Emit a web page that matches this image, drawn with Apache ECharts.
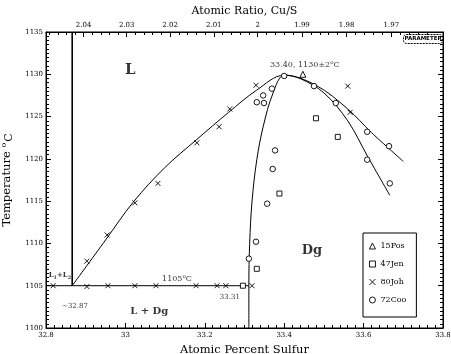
<!DOCTYPE html>
<html>
<head>
<meta charset="utf-8">
<script src="https://cdn.jsdelivr.net/npm/echarts@6/dist/echarts.min.js"></script>
<style>
  html, body { margin: 0; padding: 0; background: #fff; }
  #chart { width: 451px; height: 354px; }
</style>
</head>
<body>
<div id="chart"></div>
<script>
// Cu-S phase diagram near Cu2S, [at.% S, temperature C]
var liquidus = [[32.866, 1105], [32.95, 1110.4], [33.02, 1114.9], [33.10, 1119.0], [33.18, 1122.3],
  [33.26, 1125.5], [33.33, 1128.1], [33.40, 1129.9], [33.48, 1128.7], [33.56, 1125.9],
  [33.62, 1123.1], [33.70, 1119.7]]
var solidus = [[33.311, 1100], [33.311, 1105], [33.313, 1110], [33.319, 1115], [33.331, 1119.9],
  [33.347, 1123.8], [33.372, 1127.8], [33.40, 1129.9], [33.44, 1129.5], [33.50, 1127.8],
  [33.56, 1124.5], [33.61, 1120.3], [33.666, 1115.7]]
var miscibility = [[32.866, 1105], [32.866, 1135]]
var monotectic = [[32.8, 1105], [33.311, 1105]]

var pos15 = [[33.447, 1130.0]]
var jen47 = [[33.388, 1115.9], [33.331, 1107.0], [33.296, 1105.0], [33.48, 1124.8], [33.535, 1122.6]]
var joh80 = [[32.818, 1105], [32.903, 1104.9], [32.956, 1105], [33.024, 1105], [33.077, 1105],
  [33.178, 1105], [33.231, 1105], [33.253, 1105], [33.319, 1105],
  [32.903, 1107.9], [32.954, 1111.0], [33.024, 1114.8], [33.082, 1117.1], [33.18, 1121.9],
  [33.236, 1123.8], [33.263, 1125.9], [33.329, 1128.7], [33.56, 1128.6], [33.566, 1125.5]]
var coo72 = [[33.40, 1129.8], [33.347, 1127.5], [33.331, 1126.7], [33.349, 1126.6], [33.369, 1128.3],
  [33.377, 1121.0], [33.371, 1118.8], [33.357, 1114.7], [33.329, 1110.2], [33.311, 1108.2],
  [33.475, 1128.6], [33.530, 1126.6], [33.609, 1123.2], [33.664, 1121.5], [33.609, 1119.9],
  [33.666, 1117.1]]

// top axis: Cu/S atomic ratio
var ratioTicks = [2.04, 2.03, 2.02, 2.01, 2.00, 1.99, 1.98, 1.97]

var serif = 'DejaVu Serif'
function toS (r) { return 100 / (1 + r) }

var ratioMajorS = ratioTicks.map(toS)
var ratioMinorS = []
for (var k = 2048; k >= 1960; k -= 2) {
  if (k % 10 !== 0) ratioMinorS.push(toS(k / 1000))
}

var chart = echarts.init(document.getElementById('chart'))

function lineSeries (data, smooth, width) {
  return {
    type: 'line',
    data: data,
    showSymbol: false,
    smooth: smooth,
    silent: true,
    lineStyle: { color: '#000', width: width || 1 },
    z: 3
  }
}

function markSeries (name, data, symbol, size) {
  return {
    name: name,
    type: 'scatter',
    data: data,
    symbol: symbol,
    symbolSize: size,
    silent: true,
    itemStyle: { color: symbol.indexOf('path') === 0 ? 'none' : '#fff', borderColor: '#000', borderWidth: 0.9, opacity: 1 },
    z: 4
  }
}

function note (at, text, size, bold) {
  return {
    type: 'scatter',
    data: [at],
    symbolSize: 0,
    silent: true,
    z: 5,
    label: {
      show: true,
      position: 'inside',
      formatter: text,
      color: '#000',
      fontFamily: serif,
      fontSize: size,
      fontWeight: bold ? 'bold' : 'normal',
      rich: {
        sup: { fontSize: size * 0.7, fontFamily: serif, verticalAlign: 'top', padding: [0, 0, 5, 0] },
        sub: { fontSize: size * 0.7, fontFamily: serif, fontWeight: bold ? 'bold' : 'normal', padding: [4, 0, 0, 0] }
      }
    }
  }
}

var option = {
  animation: false,
  backgroundColor: '#fff',
  grid: {
    left: 46, right: 8, top: 32, bottom: 26,
    containLabel: false,
    outerBoundsMode: 'none',
    show: true, borderColor: '#000', borderWidth: 1
  },
  legend: {
    data: ['15Pos', '47Jen', '80Joh', '72Coo'],
    orient: 'vertical',
    left: 363,
    top: 233,
    borderColor: '#000',
    borderWidth: 1,
    backgroundColor: '#fff',
    padding: [9, 10, 13, 6],
    itemGap: 10,
    itemWidth: 6,
    itemHeight: 6,
    itemStyle: { color: '#fff', borderColor: '#000', borderWidth: 0.9 },
    selectedMode: false,
    textStyle: { fontFamily: serif, fontSize: 8, color: '#000' }
  },
  xAxis: [{
    type: 'value',
    min: 32.8,
    max: 33.8,
    interval: 0.2,
    position: 'bottom',
    name: 'Atomic Percent Sulfur',
    nameLocation: 'middle',
    nameGap: 14,
    nameTextStyle: { fontFamily: serif, fontSize: 11.5, color: '#000' },
    axisLine: { lineStyle: { color: '#000' } },
    axisTick: { inside: true, length: 5, lineStyle: { color: '#000' } },
    minorTick: { show: true, splitNumber: 10, length: 3, lineStyle: { color: '#000' } },
    axisLabel: { margin: 4, fontFamily: serif, fontSize: 7, color: '#000' },
    splitLine: { show: false }
  }, {
    type: 'value',
    min: 32.8,
    max: 33.8,
    position: 'top',
    name: 'Atomic Ratio, Cu/S',
    nameLocation: 'middle',
    nameGap: 14,
    nameTextStyle: { fontFamily: serif, fontSize: 11, color: '#000' },
    axisLine: { lineStyle: { color: '#000' } },
    axisTick: { inside: true, length: 5, customValues: ratioMajorS, lineStyle: { color: '#000' } },
    axisLabel: {
      margin: 3,
      customValues: ratioMajorS,
      fontFamily: serif,
      fontSize: 7,
      color: '#000',
      formatter: function (v) { return String(Math.round((100 - v) / v * 100) / 100) }
    },
    splitLine: { show: false }
  }, {
    type: 'value',
    min: 32.8,
    max: 33.8,
    position: 'top',
    axisLine: { show: false },
    axisTick: { inside: true, length: 3, customValues: ratioMinorS, lineStyle: { color: '#000' } },
    axisLabel: { show: false },
    splitLine: { show: false }
  }],
  yAxis: [{
    type: 'value',
    min: 1100,
    max: 1135,
    interval: 5,
    position: 'left',
    name: 'Temperature {o|o}{c|C}',
    nameLocation: 'middle',
    nameGap: 26,
    nameTextStyle: {
      fontFamily: serif,
      fontSize: 11.5,
      color: '#000',
      rich: {
        o: { fontFamily: serif, fontSize: 8, color: '#000', padding: [0, 1, 6, 0] },
        c: { fontFamily: serif, fontSize: 11, color: '#000', padding: [3, 0, 0, 0] }
      }
    },
    axisLine: { lineStyle: { color: '#000' } },
    axisTick: { inside: true, length: 5, lineStyle: { color: '#000' } },
    minorTick: { show: true, splitNumber: 10, length: 3, lineStyle: { color: '#000' } },
    axisLabel: { margin: 3, fontFamily: serif, fontSize: 7, color: '#000', formatter: function (v) { return String(v) } },
    splitLine: { show: false }
  }, {
    type: 'value',
    min: 1100,
    max: 1135,
    interval: 5,
    position: 'right',
    axisLine: { lineStyle: { color: '#000' } },
    axisTick: { inside: true, length: 5, lineStyle: { color: '#000' } },
    minorTick: { show: true, splitNumber: 10, length: 3, lineStyle: { color: '#000' } },
    axisLabel: { show: false },
    splitLine: { show: false }
  }],
  graphic: [{
    type: 'group',
    left: 403,
    top: 34,
    children: [{
      type: 'rect',
      shape: { x: 0, y: 0, width: 39, height: 9, r: 3 },
      style: { fill: '#fff', stroke: '#000', lineWidth: 1, lineDash: [2, 1] }
    }, {
      type: 'text',
      x: 19.5,
      y: 4.5,
      style: { text: 'PARAMETER', align: 'center', verticalAlign: 'middle', font: 'bold 5.5px "DejaVu Sans"', fill: '#000' }
    }]
  }],
  series: [
    lineSeries(liquidus, 0.35),
    lineSeries(solidus, 0.35),
    lineSeries(miscibility, false, 1.6),
    lineSeries(monotectic, false),
    markSeries('15Pos', pos15, 'triangle', 6),
    markSeries('47Jen', jen47, 'rect', 5),
    markSeries('80Joh', joh80, 'path://M0,0L10,10M10,0L0,10', 5),
    markSeries('72Coo', coo72, 'circle', 5.5),
    note([33.012, 1130.5], 'L', 15, true),
    note([33.47, 1109.2], 'Dg', 13, true),
    note([33.06, 1102.0], 'L + Dg', 10, true),
    note([32.835, 1106.2], 'L{sub|1}+L{sub|2}', 7, true),
    note([32.873, 1102.6], '~32.87', 7),
    note([33.13, 1105.8], '1105{sup|o}C', 8),
    note([33.263, 1103.7], '33.31', 7),
    note([33.452, 1131.1], '33.40, 1130\u00b12{sup|o}C', 8)
  ]
}

chart.setOption(option)
</script>
</body>
</html>
